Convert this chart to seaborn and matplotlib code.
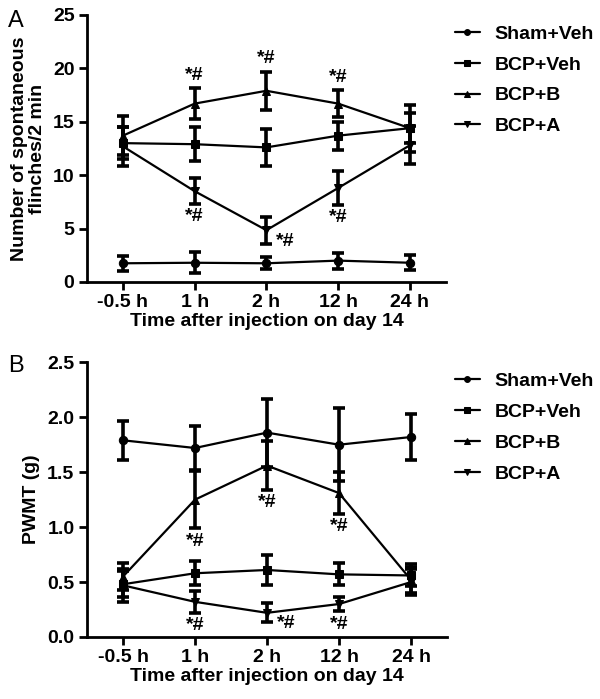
import seaborn as sns
import matplotlib.pyplot as plt
import numpy as np
import pandas as pd

# time points and groups
times = ['-0.5 h', '1 h', '2 h', '12 h', '24 h']
groups = ['Sham+Veh', 'BCP+Veh', 'BCP+B', 'BCP+A']
markers = ['o', 's', '^', 'v']

# panel A: spontaneous flinches (mean, sem)
flinch_sham = [1.75, 1.8, 1.75, 2.0, 1.8]
flinch_sham_err = [0.7, 1.0, 0.55, 0.75, 0.7]
flinch_bcp_veh = [13.0, 12.9, 12.6, 13.7, 14.4]
flinch_bcp_veh_err = [1.5, 1.6, 1.7, 1.3, 1.4]
flinch_bcp_b = [13.7, 16.7, 17.9, 16.7, 14.4]
flinch_bcp_b_err = [1.8, 1.45, 1.8, 1.25, 2.2]
flinch_bcp_a = [12.7, 8.5, 4.85, 8.8, 12.8]
flinch_bcp_a_err = [1.8, 1.2, 1.25, 1.6, 1.8]

# panel B: PWMT (g)
pwmt_sham = [1.79, 1.72, 1.86, 1.75, 1.82]
pwmt_sham_err = [0.18, 0.2, 0.31, 0.33, 0.21]
pwmt_bcp_veh = [0.48, 0.58, 0.61, 0.57, 0.56]
pwmt_bcp_veh_err = [0.12, 0.11, 0.14, 0.1, 0.1]
pwmt_bcp_b = [0.55, 1.25, 1.56, 1.31, 0.52]
pwmt_bcp_b_err = [0.12, 0.26, 0.22, 0.19, 0.12]
pwmt_bcp_a = [0.47, 0.32, 0.22, 0.3, 0.5]
pwmt_bcp_a_err = [0.15, 0.1, 0.085, 0.065, 0.12]

# significance marks: (group, time index, where)
sig_a = [('BCP+B', 1, 'above'), ('BCP+B', 2, 'above'), ('BCP+B', 3, 'above'),
         ('BCP+A', 1, 'below'), ('BCP+A', 2, 'right'), ('BCP+A', 3, 'below')]
sig_b = [('BCP+B', 1, 'below'), ('BCP+B', 2, 'below'), ('BCP+B', 3, 'below'),
         ('BCP+A', 1, 'below'), ('BCP+A', 2, 'right'), ('BCP+A', 3, 'below')]


def make_frame(means, errs):
    rows = []
    for g, m, e in zip(groups, means, errs):
        for i, t in enumerate(times):
            rows.append({'group': g, 'x': i, 'mean': m[i], 'err': e[i]})
    return pd.DataFrame(rows)


df_a = make_frame([flinch_sham, flinch_bcp_veh, flinch_bcp_b, flinch_bcp_a],
                  [flinch_sham_err, flinch_bcp_veh_err, flinch_bcp_b_err, flinch_bcp_a_err])
df_b = make_frame([pwmt_sham, pwmt_bcp_veh, pwmt_bcp_b, pwmt_bcp_a],
                  [pwmt_sham_err, pwmt_bcp_veh_err, pwmt_bcp_b_err, pwmt_bcp_a_err])

sns.set_theme(style='ticks')
plt.rcParams['font.family'] = ['Liberation Sans', 'DejaVu Sans']
plt.rcParams['font.weight'] = 'bold'
plt.rcParams['axes.labelweight'] = 'bold'
# plain black everywhere, not seaborn's dark grey
for k in ['text.color', 'axes.labelcolor', 'xtick.color', 'ytick.color', 'axes.edgecolor']:
    plt.rcParams[k] = 'black'

FS = 14

fig = plt.figure(figsize=(6, 6.99), dpi=100)
ax_a = fig.add_axes([0.145, 0.5966, 0.598, 0.382])
ax_b = fig.add_axes([0.145, 0.0887, 0.600, 0.393])


def draw_panel(ax, df, sig, ylim, yticks, ylabel, off, tickfmt, leg_top):
    sns.lineplot(data=df, x='x', y='mean', style='group', markers=dict(zip(groups, markers)),
                 dashes=False, color='black', linewidth=1.6, markersize=6,
                 markeredgecolor='black', ax=ax, legend=True)
    for g in groups:
        d = df[df['group'] == g]
        ax.errorbar(d['x'], d['mean'], yerr=d['err'], fmt='none', ecolor='black',
                    elinewidth=2.6, capsize=4, capthick=2.6)

    # significance labels
    for g, i, where in sig:
        row = df[(df['group'] == g) & (df['x'] == i)].iloc[0]
        if where == 'above':
            tx, ty, va = i, row['mean'] + row['err'] + off, 'bottom'
        elif where == 'below':
            tx, ty, va = i, row['mean'] - row['err'] - off, 'top'
        else:
            tx, ty, va = i + 0.27, row['mean'] - 0.6 * off, 'top'
        ax.text(tx, ty, '*#', ha='center', va=va, fontsize=FS, fontweight='bold')

    ax.set_xlim(-0.5, 4.5)
    ax.set_ylim(*ylim)
    ax.set_xticks(range(len(times)))
    ax.set_xticklabels(times)
    ax.set_yticks(yticks)
    ax.set_yticklabels([tickfmt.format(v) for v in yticks])
    ax.set_xlabel('Time after injection on day 14', fontsize=FS, fontweight='bold', labelpad=1)
    ax.set_ylabel(ylabel, fontsize=FS, fontweight='bold', labelpad=5, linespacing=1.05)
    ax.tick_params(width=2, length=6, labelsize=FS, pad=3)
    for s in ['left', 'bottom']:
        ax.spines[s].set_linewidth(2)
    sns.despine(ax=ax)

    leg = ax.legend(loc='upper left', bbox_to_anchor=(0.758, leg_top),
                    bbox_transform=fig.transFigure, frameon=False, borderpad=0,
                    borderaxespad=0, fontsize=FS, handlelength=1.3, labelspacing=0.68,
                    markerscale=0.7, handletextpad=0.75)
    for t in leg.get_texts():
        t.set_fontweight('bold')


draw_panel(ax_a, df_a, sig_a, (0, 25), [0, 5, 10, 15, 20, 25],
           'Number of spontaneous\nflinches/2 min', 0.4, '{:.0f}', 0.964)
draw_panel(ax_b, df_b, sig_b, (0, 2.5), [0, 0.5, 1.0, 1.5, 2.0, 2.5],
           'PWMT (g)', 0.04, '{:.1f}', 0.467)

fig.text(0.013, 0.97, 'A', fontsize=17, fontweight='normal', va='center')
fig.text(0.013, 0.476, 'B', fontsize=17, fontweight='normal', va='center')

fig.savefig('out.png', dpi=100, facecolor='white')
